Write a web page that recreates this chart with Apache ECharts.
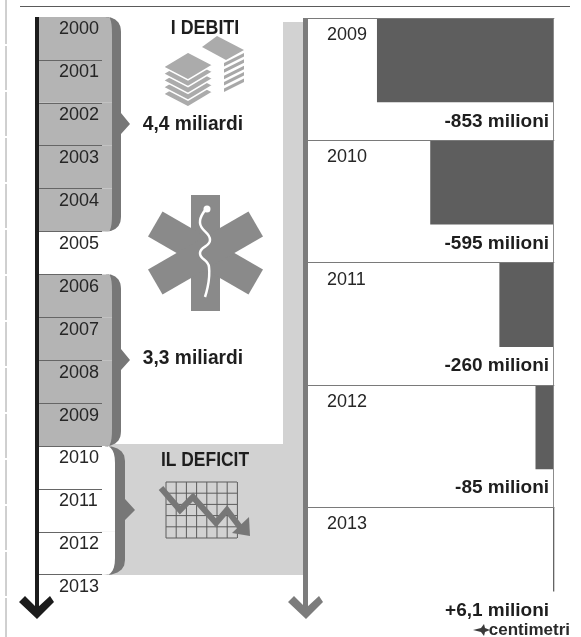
<!DOCTYPE html>
<html>
<head>
<meta charset="utf-8">
<style>html,body{margin:0;padding:0;background:#fff}#chart{width:581px;height:637px}</style>
<script src="https://cdn.jsdelivr.net/npm/echarts@6/dist/echarts.min.js"></script>
</head>
<body>
<div id="chart"></div>
<script>
// Timeline rows: which period each year belongs to
const timelineYears = ['2000','2001','2002','2003','2004','2005','2006','2007','2008','2009','2010','2011','2012','2013'];
const timelineFill  = [1,1,1,1,1,null,1,1,1,1,1,1,1,null];
const timelineKind  = ['debt','debt','debt','debt','debt','','debt','debt','debt','debt','deficit','deficit','deficit',''];

// Yearly result in millions of euro
const resultYears  = ['2009','2010','2011','2012','2013'];
const resultValues = [-853,-595,-260,-85,6.1];
const labelAnchors = [0,0,0,0,0];

const debtTotals = ['4,4 miliardi','3,3 miliardi'];

const BAND = '#b4b4b4', BRACE = '#777777', PALE = '#d2d2d2', BAR = '#5e5e5e', INK = '#262626';
const HEAD = '"Liberation Sans",sans-serif';

function milioni(v) {
  return (v > 0 ? '+' : '') + String(v).replace('.', ',') + ' milioni';
}

// Corner rounding for the first and last row of each period block
function rowRadius(i) {
  const k = timelineKind[i];
  const top = k && timelineKind[i - 1] !== k ? 15 : 0;
  const bottom = k && timelineKind[i + 1] !== k ? 15 : 0;
  return [0, top, bottom, 0];
}

function quad(p0, c, p1) {
  const out = [];
  for (let t = 0; t <= 1.001; t += 0.2) {
    out.push([(1-t)*(1-t)*p0[0] + 2*(1-t)*t*c[0] + t*t*p1[0], (1-t)*(1-t)*p0[1] + 2*(1-t)*t*c[1] + t*t*p1[1]]);
  }
  return out;
}

// Filled curly brace: outer edge at xr, inner edge at xl, pointing right at tipX
function brace(top, mid, bottom, xl, xr, tipX, startX, fill) {
  const pts = [].concat(
    quad([startX, top], [xr, top], [xr, top + 15]),
    [[xr, mid - 11], [tipX, mid], [xr, mid + 10]],
    quad([xr, bottom - 15], [xr, bottom], [startX, bottom]),
    quad([startX + 4, bottom], [xl, bottom - 3], [xl, bottom - 17]),
    quad([xl, top + 17], [xl, top + 3], [startX + 4, top])
  );
  return { type: 'polygon', z: 10, shape: { points: pts }, style: { fill: fill } };
}

function starArm(deg) {
  return { type: 'rect', z: 5, shape: { x: 191, y: 195, width: 29, height: 116 },
    originX: 205.5, originY: 253, rotation: deg * Math.PI / 180, style: { fill: '#8a8a8a' } };
}

function rhombus(cx, cy, hw, hh, dx) {
  return { type: 'polygon', z: 5,
    shape: { points: [[cx, cy - hh], [cx + hw + dx, cy - 1], [cx, cy + hh], [cx - hw - dx, cy + 1]] },
    style: { fill: '#ababab', stroke: '#fff', lineWidth: 1.5 } };
}

function banknotes() {
  const els = [];
  // Back pile: top sheet and the visible right edges below it
  for (let k = 5; k >= 1; k--) {
    const y = k * 6.4;
    els.push({ type: 'polygon', z: 5, shape: { points: [[224, 60 + y - 3.5], [244, 50 + y - 3.5], [244, 50 + y], [224, 60 + y]] }, style: { fill: '#a8a8a8' } });
  }
  els.push({ type: 'polygon', z: 5, shape: { points: [[202, 47], [217, 36], [244, 50], [226, 60]] }, style: { fill: '#ababab' } });
  // Front pile, drawn from the bottom sheet upward
  for (let k = 4; k >= 0; k--) els.push(rhombus(188, 66 + k * 6.75, 24, 14, 1));
  return els;
}

function chartIcon() {
  const els = [];
  for (let i = 0; i <= 7; i++) {
    const x = 166 + i * 10.2;
    els.push({ type: 'line', z: 5, shape: { x1: x, y1: 482, x2: x, y2: 538 }, style: { stroke: '#5c5c5c', lineWidth: 1 } });
  }
  for (let i = 0; i <= 5; i++) {
    const y = 482 + i * 11.2;
    els.push({ type: 'line', z: 5, shape: { x1: 166, y1: y, x2: 237, y2: y }, style: { stroke: '#5c5c5c', lineWidth: 1 } });
  }
  els.push({ type: 'polyline', z: 6, shape: { points: [[161,488],[180,510],[193,497],[216,523],[227,510],[243,531]] },
    style: { stroke: '#777', lineWidth: 6, fill: null } });
  els.push({ type: 'polygon', z: 6, shape: { points: [[249,517],[250,536],[232,533]] }, style: { fill: '#777' } });
  return els;
}

function chevron(dx, fill) {
  const p = [[19,602],[25,596],[37,608],[50,596],[54,602],[37,619]].map(q => [q[0] + dx, q[1]]);
  return { type: 'polygon', z: 12, shape: { points: p }, style: { fill: fill } };
}

function title(text, x, y, size, sx) {
  return { type: 'text', z: 12, x: x, y: y, scaleX: sx, style: { text: text, x: 0, y: 0, align: 'center', verticalAlign: 'middle',
    fill: '#1e1e1e', font: 'bold ' + size + 'px ' + HEAD } };
}

const decorations = [
  { type: 'line', z: 1, shape: { x1: 6, y1: 0, x2: 6, y2: 637 }, style: { stroke: '#a0a0a0', lineWidth: 1, lineDash: [44, 2] } },
  { type: 'line', z: 1, shape: { x1: 20, y1: 6.5, x2: 570, y2: 6.5 }, style: { stroke: '#5a5a5a', lineWidth: 1 } },
  // Pale backdrop behind the deficit block and along the right-hand axis
  { type: 'rect', z: 0, shape: { x: 283, y: 22, width: 24, height: 553 }, style: { fill: PALE } },
  { type: 'rect', z: 0, shape: { x: 100, y: 444, width: 200, height: 131 }, style: { fill: PALE } },
  // Timeline axes
  { type: 'rect', z: 11, shape: { x: 35, y: 17, width: 4, height: 595 }, style: { fill: '#1c1c1c' } },
  chevron(0, '#1c1c1c'),
  { type: 'rect', z: 11, shape: { x: 303, y: 18, width: 5, height: 595 }, style: { fill: '#7c7c7c' } },
  chevron(269, '#7c7c7c'),
  { type: 'line', z: 1, shape: { x1: 553.5, y1: 18, x2: 553.5, y2: 507 }, style: { stroke: '#8c8c8c', lineWidth: 1 } },
  // Period braces
  brace(17, 124, 231.5, 112, 121, 130, 105, BRACE),
  brace(274, 360, 446, 112, 121, 130, 105, BRACE),
  brace(446, 510, 575, 115, 125, 135, 104, BRACE),
  // Headings and totals
  title('I DEBITI', 205, 28, 21, 0.85),
  title(debtTotals[0], 193, 124, 20, 0.96),
  title(debtTotals[1], 193, 358, 20, 0.96),
  title('IL DEFICIT', 205, 460, 21, 0.83),
  // Publisher mark
  { type: 'text', z: 12, style: { text: 'centimetri', x: 570, y: 630, align: 'right', verticalAlign: 'middle',
    fill: '#2a2a2a', font: 'bold 17px ' + HEAD } },
  { type: 'polygon', z: 12, shape: { points: [[473,630],[481,628],[484,624],[485,628],[490,630],[485,632],[484,636],[481,632]] }, style: { fill: '#3a3a3a' } },
  // Star of life with staff and snake
  starArm(0), starArm(60), starArm(-60),
  { type: 'polyline', z: 6, shape: { points: [[207,208],[200,223],[210,240],[200,253],[209,267],[205,297]], smooth: 0.5 },
    style: { stroke: '#fff', lineWidth: 2.5, fill: null } },
  { type: 'circle', z: 6, shape: { cx: 207, cy: 209, r: 3.5 }, style: { fill: '#fff' } }
].concat(banknotes(), chartIcon());

const chart = echarts.init(document.getElementById('chart'), null, { renderer: 'canvas' });
chart.setOption({
  animation: false,
  backgroundColor: '#fff',
  grid: [
    { left: 39, top: 17, width: 63, height: 600.6, containLabel: false, outerBoundsMode: 'none' },
    { left: 307, top: 18, width: 247.3, height: 611.5, containLabel: false, outerBoundsMode: 'none' }
  ],
  xAxis: [
    { gridIndex: 0, type: 'value', min: 0, max: 0.77, show: false },
    { gridIndex: 1, type: 'value', min: -1192, max: 6.1, show: false }
  ],
  yAxis: [
    { gridIndex: 0, type: 'category', inverse: true, data: timelineYears, z: 8,
      axisLine: { show: false }, axisTick: { show: false },
      splitLine: { show: true, showMinLine: false, showMaxLine: false, lineStyle: { color: '#666', width: 1 } },
      axisLabel: { inside: true, margin: 20, interval: 0, color: INK, fontFamily: '"Liberation Sans"', fontSize: 18,
        verticalAlign: 'bottom', lineHeight: 18 } },
    { gridIndex: 1, type: 'category', inverse: true, data: resultYears, z: 8,
      axisLine: { show: false }, axisTick: { show: false },
      splitLine: { show: true, showMaxLine: false, lineStyle: { color: '#7a7a7a', width: 1 } },
      axisLabel: { inside: true, margin: 20, interval: 0, color: INK, fontFamily: '"Liberation Sans"', fontSize: 18,
        verticalAlign: 'bottom', lineHeight: 88 } }
  ],
  series: [
    { type: 'bar', xAxisIndex: 0, yAxisIndex: 0, barWidth: '100%', clip: false, silent: true, z: 2,
      data: timelineFill.map((v, i) => ({
        value: v,
        itemStyle: { color: timelineKind[i] === 'debt' ? BAND : '#fff', borderRadius: rowRadius(i) }
      })) },
    { type: 'bar', xAxisIndex: 1, yAxisIndex: 1, barWidth: 84.3, barGap: 0, silent: true, z: 3,
      data: resultValues, itemStyle: { color: BAR } },
    { type: 'bar', xAxisIndex: 1, yAxisIndex: 1, barWidth: 38, barGap: 0, silent: true, z: 3,
      data: labelAnchors, itemStyle: { color: 'transparent' },
      label: { show: true, position: 'left', distance: 4, color: '#1e1e1e',
        fontFamily: HEAD, fontWeight: 'bold', fontSize: 19,
        formatter: p => milioni(resultValues[p.dataIndex]) } }
  ],
  graphic: { elements: decorations }
});
</script>
</body>
</html>
